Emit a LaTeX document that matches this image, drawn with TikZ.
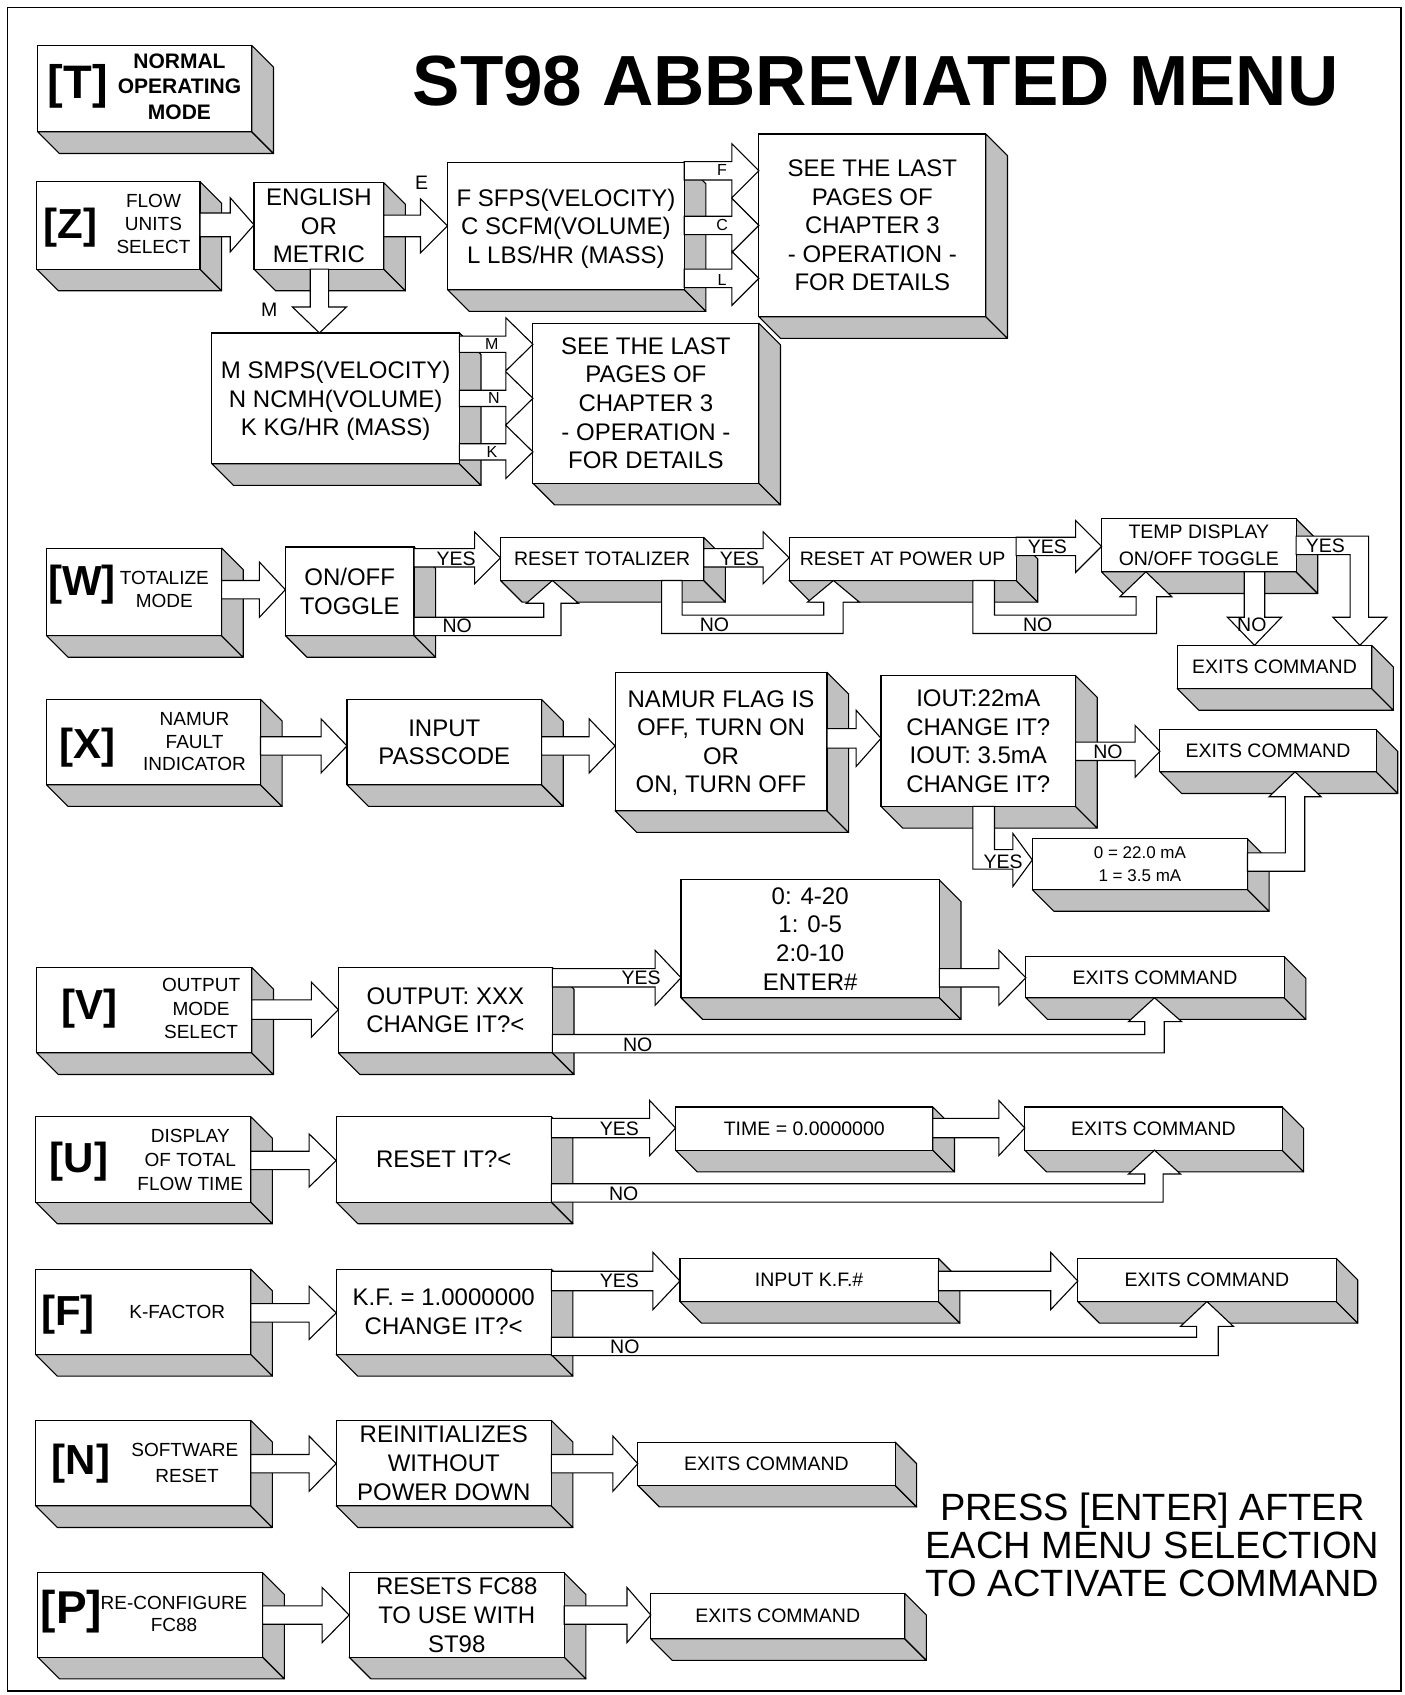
\documentclass[tikz,border=0pt]{standalone}
\usepackage{fontspec}
\setmainfont{Liberation Sans}
\usetikzlibrary{calc}
\definecolor{facegray}{RGB}{192,192,192}

\newcommand\fTitle{\fontsize{71}{80}\selectfont\bfseries}
\newcommand\fBig{\fontsize{24}{28.6}\selectfont}
\newcommand\fMed{\fontsize{19.5}{27}\selectfont}
\newcommand\fSm{\fontsize{19}{22.7}\selectfont}
\newcommand\fTiny{\fontsize{17}{22.7}\selectfont}
\newcommand\fLet{\fontsize{16}{16}\selectfont}
\newcommand\fKey{\fontsize{42}{42}\selectfont\bfseries}
\newcommand\fNote{\fontsize{38}{37.8}\selectfont}
\def\DD{20}

\tikzset{
 face/.style={fill=facegray, draw=black, line width=1.1pt, line join=round},
 frontface/.style={draw=black, fill=white, line width=1.1pt, inner sep=0pt, outer sep=0pt, align=center, text depth=0pt},
 arr/.style={fill=white, draw=black, line width=1.1pt, line join=miter},
 lab/.style={inner sep=0pt, font=\fMed, text depth=0pt},
 keylab/.style={inner sep=0pt, font=\fKey},
 side/.style={inner sep=0pt, align=center, font=\fSm, text depth=0pt},
}

% name, x1, y1, x2, y2, font, text
\newcommand\boxthree[7]{%
  \filldraw[face] (#2,#5) -- (#4,#5) -- ({#4+\DD},{#5+\DD}) -- ({#2+\DD},{#5+\DD}) -- cycle;
  \filldraw[face] (#4,#3) -- ({#4+\DD},{#3+\DD}) -- ({#4+\DD},{#5+\DD}) -- (#4,#5) -- cycle;
  \node[frontface, font=#6, minimum width={(#4-#2)*1.0808pt}, minimum height={(#5-#3)*1.0808pt}] (#1) at ({(#2+#4)/2},{(#3+#5)/2}) {#7};
}
% from, to, y, shaft half, head half, head length
\newcommand\hbarrow[6]{%
  \filldraw[arr] ($(#1.east |- 0,#3)+(0,-#4)$) -- ($(#2.west |- 0,#3)+(-#6,-#4)$) -- ($(#2.west |- 0,#3)+(-#6,-#5)$) -- (#2.west |- 0,#3) -- ($(#2.west |- 0,#3)+(-#6,#5)$) -- ($(#2.west |- 0,#3)+(-#6,#4)$) -- ($(#1.east |- 0,#3)+(0,#4)$) -- cycle;
}
% from (south), to (north), x, shaft half, head half, head length
\newcommand\vbarrow[6]{%
  \filldraw[arr] ($(#1.south -| #3,0)+(-#4,0)$) -- ($(#2.north -| #3,0)+(-#4,-#6)$) -- ($(#2.north -| #3,0)+(-#5,-#6)$) -- (#2.north -| #3,0) -- ($(#2.north -| #3,0)+(#5,-#6)$) -- ($(#2.north -| #3,0)+(#4,-#6)$) -- ($(#1.south -| #3,0)+(#4,0)$) -- cycle;
}

\begin{document}
\begin{tikzpicture}[x=1.0808pt,y=-1.0808pt]
\useasboundingbox (0,0) rectangle (1299,1568);
\fill[white] (0,0) rectangle (1299,1568);
\draw[line width=1.8pt] (7,7) rectangle (1296,1564);

\node[inner sep=0pt, font=\fTitle, text depth=0pt] (title) at (810,75) {ST98 ABBREVIATED MENU};

% ---------- T / Z ----------
\boxthree{T}{35}{42}{233}{122}{}{}
\node[keylab, font=\fontsize{47}{47}\selectfont\bfseries] (Tk) at (72,80) {[T]};
\node[side, font=\fontsize{21}{25.4}\selectfont\bfseries] (Tt) at (166,80) {NORMAL\\OPERATING\\MODE};

\boxthree{Z}{34}{168}{185}{249}{}{}
\node[keylab] (Zk) at (65,211) {[Z]};
\node[side] (Zt) at (142,207) {FLOW\\UNITS\\SELECT};
\boxthree{EOM}{235}{169}{355}{249}{\fBig}{ENGLISH\\OR\\METRIC}
\boxthree{FEng}{414}{150}{633}{268}{\fBig}{F SFPS(VELOCITY)\\C SCFM(VOLUME)\\L LBS/HR (MASS)}
\boxthree{SEE2}{493}{299}{702}{447}{\fBig}{SEE THE LAST\\PAGES OF\\CHAPTER 3\\- OPERATION -\\FOR DETAILS}
\boxthree{SEE1}{702}{124}{912}{293}{\fBig}{SEE THE LAST\\PAGES OF\\CHAPTER 3\\- OPERATION -\\FOR DETAILS}
\boxthree{MMet}{196}{308}{425}{429}{\fBig}{M SMPS(VELOCITY)\\N NCMH(VOLUME)\\K KG/HR (MASS)}

% ---------- W ----------
\boxthree{W}{43}{507}{205}{588}{}{}
\node[keylab] (Wk) at (76,541) {[W]};
\node[side] (Wt) at (152,545.5) {TOTALIZE\\MODE};
\boxthree{WTog}{264}{506}{383}{588}{\fBig}{ON/OFF\\TOGGLE}
\boxthree{WRT}{463}{497}{651}{537}{\fMed}{RESET TOTALIZER}
\boxthree{WRPU}{730}{497}{940}{537}{\fMed}{RESET AT POWER UP}
\boxthree{WTemp}{1019}{480}{1199}{529}{\fMed}{TEMP DISPLAY\\ON/OFF TOGGLE}
\boxthree{WExit}{1089}{597}{1269}{637}{\fMed}{EXITS COMMAND}

% ---------- X ----------
\boxthree{X}{43}{647}{241}{726}{}{}
\node[keylab] (Xk) at (81,692) {[X]};
\node[side] (Xt) at (180,686) {NAMUR\\FAULT\\INDICATOR};
\boxthree{XPass}{321}{647}{501}{726}{\fBig}{INPUT\\PASSCODE}
\boxthree{XFlag}{569}{622}{765}{750}{\fBig}{NAMUR FLAG IS\\OFF, TURN ON\\OR\\ON, TURN OFF}
\boxthree{XIout}{815}{625}{995}{746}{\fBig}{IOUT:22mA\\CHANGE IT?\\IOUT: 3.5mA\\CHANGE IT?}
\boxthree{XExit}{1073}{675}{1273}{714}{\fMed}{EXITS COMMAND}
\boxthree{XSel}{955}{776}{1154}{823}{\fTiny}{0 = 22.0 mA\\1 = 3.5 mA}

% ---------- V ----------
\boxthree{V}{34}{895}{233}{974}{}{}
\node[keylab] (Vk) at (83,933) {[V]};
\node[side, font=\fontsize{19}{23.6}\selectfont] (Vt) at (186,933) {OUTPUT\\MODE\\SELECT};
\boxthree{VOut}{313}{895}{511}{974}{\fBig}{OUTPUT: XXX\\CHANGE IT?<}
\boxthree{VOpt}{630}{814}{869}{923}{\fBig}{0: 4-20\\1: 0-5\\2:0-10\\ENTER\#}
\boxthree{VExit}{949}{885}{1188}{923}{\fMed}{EXITS COMMAND}

% ---------- U ----------
\boxthree{U}{33}{1033}{232}{1112}{}{}
\node[keylab] (Uk) at (73,1075) {[U]};
\node[side, font=\fontsize{19}{23.6}\selectfont] (Ut) at (176,1073) {DISPLAY\\OF TOTAL\\FLOW TIME};
\boxthree{URes}{311}{1033}{510}{1112}{\fBig}{RESET IT?<}
\boxthree{UTime}{625}{1024}{863}{1064}{\fMed}{TIME = 0.0000000}
\boxthree{UExit}{948}{1024}{1186}{1064}{\fMed}{EXITS COMMAND}

% ---------- F ----------
\boxthree{F}{33}{1174}{232}{1253}{}{}
\node[keylab] (Fk) at (63,1216) {[F]};
\node[side] (Ft) at (164,1214) {K-FACTOR};
\boxthree{FKf}{311}{1174}{510}{1253}{\fBig}{K.F. = 1.0000000\\CHANGE IT?<}
\boxthree{FInp}{629}{1164}{868}{1204}{\fMed}{INPUT K.F.\#}
\boxthree{FExit}{997}{1164}{1236}{1204}{\fMed}{EXITS COMMAND}

% ---------- N ----------
\boxthree{N}{33}{1314}{232}{1393}{}{}
\node[keylab] (Nk) at (75,1354) {[N]};
\node[side] (Nt1) at (171,1341) {SOFTWARE};
\node[side] (Nt2) at (173,1365) {RESET};
\boxthree{NRe}{311}{1314}{510}{1393}{\fBig}{REINITIALIZES\\WITHOUT\\POWER DOWN}
\boxthree{NExit}{590}{1334}{828}{1374}{\fMed}{EXITS COMMAND}

% ---------- P ----------
\boxthree{P}{35}{1455}{243}{1533}{}{}
\node[keylab, font=\fontsize{46}{46}\selectfont\bfseries] (Pk) at (66,1491) {[P]};
\node[side] (Pt) at (161,1493) {RE-CONFIGURE\\FC88};
\boxthree{PRes}{323}{1455}{522}{1533}{\fBig}{RESETS FC88\\TO USE WITH\\ST98}
\boxthree{PExit}{602}{1474}{837}{1516}{\fMed}{EXITS COMMAND}

% ================= ARROWS =================
\hbarrow{Z}{EOM}{208}{11}{25}{22}
\hbarrow{EOM}{FEng}{209}{10}{25}{25}
\hbarrow{FEng}{SEE1}{158}{8.5}{25}{25}
\hbarrow{FEng}{SEE1}{208.5}{8.5}{25}{25}
\hbarrow{FEng}{SEE1}{257.5}{8.5}{25}{25}
\vbarrow{EOM}{MMet}{295.5}{8.5}{25}{24}
\hbarrow{MMet}{SEE2}{318.5}{7.5}{24.5}{25}
\hbarrow{MMet}{SEE2}{368.5}{7.5}{24.5}{25}
\hbarrow{MMet}{SEE2}{418}{7.5}{24.5}{25}

% W row
\hbarrow{W}{WTog}{545.5}{8.5}{25.5}{24}
\hbarrow{WTog}{WRT}{516}{8.5}{24}{24}
\hbarrow{WRT}{WRPU}{516}{8.5}{24}{24}
\hbarrow{WRPU}{WTemp}{505.5}{8.5}{24}{24}
\filldraw[arr] (383,571) -- (503,571) -- (503,558) -- (487,558) -- (511,537) -- (535,558) -- (519,558) -- (519,588) -- (383,588) -- cycle;
\filldraw[arr] (612,537) -- (612,586) -- (780,586) -- (780,557) -- (795,557) -- (771,537) -- (747,557) -- (762,557) -- (762,569) -- (631,569) -- (631,537) -- cycle;
\filldraw[arr] (900,537) -- (900,586) -- (1070,586) -- (1070,552) -- (1084,552) -- (1060,529) -- (1036,552) -- (1051,552) -- (1051,569) -- (920,569) -- (920,537) -- cycle;
\vbarrow{WTemp}{WExit}{1160.5}{9.5}{25}{26}
\filldraw[arr] (1199,496) -- (1266,496) -- (1266,571) -- (1283,571) -- (1258,597) -- (1233,571) -- (1249,571) -- (1249,513) -- (1199,513) -- cycle;

% X row
\hbarrow{X}{XPass}{690}{8.5}{25}{24}
\hbarrow{XPass}{XFlag}{690}{8.5}{25}{24}
\hbarrow{XFlag}{XIout}{683}{9}{26}{23}
\hbarrow{XIout}{XExit}{695}{8.5}{24}{23}
\filldraw[arr] (900,746) -- (900,804) -- (937,804) -- (937,820) -- (955,795.5) -- (937,771) -- (937,786) -- (920,786) -- (920,746) -- cycle;
\filldraw[arr] (1154,789) -- (1189,789) -- (1189,737) -- (1174,737) -- (1198,714) -- (1222,737) -- (1207,737) -- (1207,806) -- (1154,806) -- cycle;

% V row
\hbarrow{V}{VOut}{934}{9}{25.5}{25}
\hbarrow{VOut}{VOpt}{904.5}{8.5}{25.5}{24}
\hbarrow{VOpt}{VExit}{904.5}{8.5}{25.5}{25}
\filldraw[arr] (511,957) -- (1059,957) -- (1059,945) -- (1044,945) -- (1068,923) -- (1093,945) -- (1077,945) -- (1077,974) -- (511,974) -- cycle;

% U row
\hbarrow{U}{URes}{1073.5}{8.5}{24.5}{25}
\hbarrow{URes}{UTime}{1043.5}{9}{25.5}{24}
\hbarrow{UTime}{UExit}{1043.5}{9}{25.5}{24}
\filldraw[arr] (510,1095) -- (1059,1095) -- (1059,1086) -- (1044,1086) -- (1068,1064) -- (1092,1086) -- (1076,1086) -- (1076,1112) -- (510,1112) -- cycle;

% F row
\hbarrow{F}{FKf}{1214.5}{8.5}{24.5}{25}
\hbarrow{FKf}{FInp}{1185}{9}{26.5}{25}
\hbarrow{FInp}{FExit}{1185}{9}{26.5}{25}
\filldraw[arr] (510,1237) -- (1107,1237) -- (1107,1227) -- (1092,1227) -- (1116.5,1204) -- (1141,1227) -- (1127,1227) -- (1127,1254) -- (510,1254) -- cycle;

% N, P rows
\hbarrow{N}{NRe}{1354}{8.5}{25.5}{25}
\hbarrow{NRe}{NExit}{1354}{8.5}{25.5}{23}
\hbarrow{P}{PRes}{1494}{8.5}{25.5}{25}
\hbarrow{PRes}{PExit}{1494}{8.5}{25.5}{22}

% ================= LABELS =================
\node[lab] (lE) at (390,169) {E};
\node[lab] (lM) at (249,287) {M};
\node[lab, font=\fLet] (lF) at (668,157) {F};
\node[lab, font=\fLet] (lC) at (668,208) {C};
\node[lab, font=\fLet] (lL) at (668,259) {L};
\node[lab, font=\fLet] (lM2) at (455,318) {M};
\node[lab, font=\fLet] (lN2) at (457,368) {N};
\node[lab, font=\fLet] (lK2) at (455,418) {K};

\node[lab] (y1) at (422,517) {YES};
\node[lab] (n1) at (423,579) {NO};
\node[lab] (y2) at (684,517) {YES};
\node[lab] (n2) at (661,578) {NO};
\node[lab] (y3) at (969,506) {YES};
\node[lab] (n3) at (960,578) {NO};
\node[lab] (n4) at (1158,578) {NO};
\node[lab] (y4) at (1226,505) {YES};
\node[lab] (n5) at (1025,695) {NO};
\node[lab] (y5) at (928,797) {YES};
\node[lab] (y6) at (593,904) {YES};
\node[lab] (n6) at (590,966) {NO};
\node[lab] (y7) at (573,1044) {YES};
\node[lab] (n7) at (577,1104) {NO};
\node[lab] (y8) at (573,1185) {YES};
\node[lab] (n8) at (578,1246) {NO};

\node[inner sep=0pt, align=center, font=\fNote, text depth=0pt] (note) at (1066,1429) {PRESS [ENTER] AFTER\\EACH MENU SELECTION\\TO ACTIVATE COMMAND};
\end{tikzpicture}
\end{document}
